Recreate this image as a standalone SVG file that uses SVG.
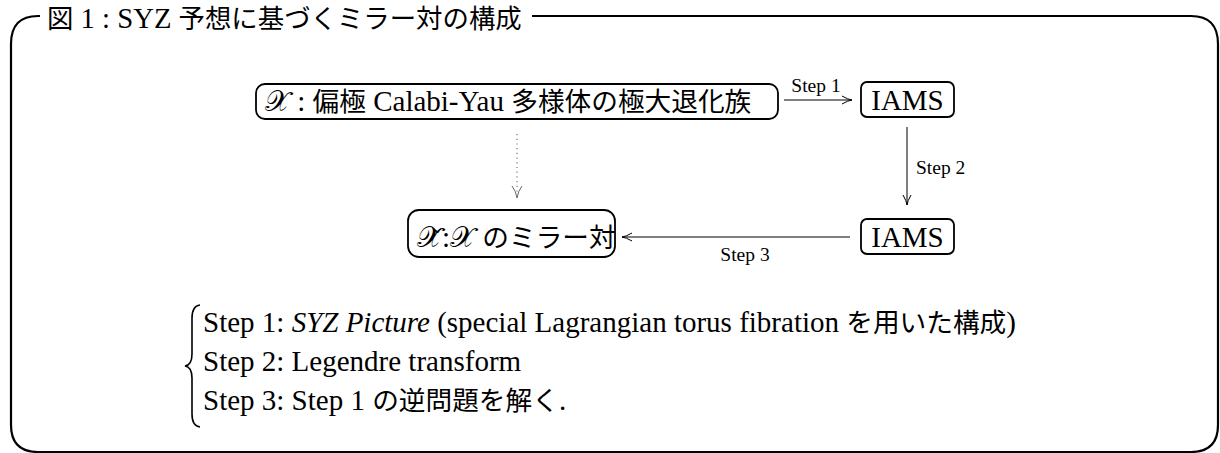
<svg xmlns="http://www.w3.org/2000/svg" width="1220" height="453" viewBox="0 0 1220 453">
<defs>
<style>
text{font-family:"Liberation Serif","Noto Sans CJK JP",serif;fill:#000}
.j{font-size:0.92em}
.frame{fill:none;stroke:#000;stroke-width:2.2}
.box{fill:#fff;stroke:#000;stroke-width:1.8}
.conn{fill:none;stroke:#000;stroke-width:1}
.dot{fill:none;stroke:#777;stroke-width:1.2;stroke-dasharray:1.2 3.5}
.lab{font-size:19.5px}
.node{font-size:29px}
.leg{font-size:29px}
</style>
<marker id="arr" viewBox="0 0 12 10" refX="11" refY="5" markerWidth="12" markerHeight="10" markerUnits="userSpaceOnUse" orient="auto">
<path d="M1,1 Q7,4.5 11,5 Q7,5.5 1,9" fill="none" stroke="#000" stroke-width="1"/>
</marker>
</defs>
<rect width="1220" height="453" fill="#fff"/>
<g id="frame">
<path class="frame" d="M40,16 L38,16 Q11,16 11,44 L11,425 Q11,452 38,452 L1191,452 Q1218,452 1218,425 L1218,44 Q1218,16 1191,16 L532,16"/>
<text x="47" y="28" font-size="28.7"><tspan class="j">図</tspan> 1 : SYZ <tspan class="j">予想に基づくミラー対の構成</tspan></text>
</g>
<g id="connectors">
<line class="conn" x1="784" y1="100" x2="852" y2="100" marker-end="url(#arr)"/>
<text class="lab" x="816" y="92" text-anchor="middle">Step 1</text>
<line class="conn" x1="907" y1="127" x2="907" y2="205" marker-end="url(#arr)"/>
<text class="lab" x="916" y="174">Step 2</text>
<line class="conn" x1="850" y1="237" x2="622" y2="237" marker-end="url(#arr)"/>
<text class="lab" x="745" y="261" text-anchor="middle">Step 3</text>
<line class="dot" x1="517" y1="134" x2="517" y2="194"/>
<path d="M512,186 Q516,191 517,198 Q518,191 522,186" fill="none" stroke="#666" stroke-width="1"/>
</g>
<g id="node-x">
<rect class="box" x="256" y="84" width="522" height="35" rx="9"/>
<text class="node" x="265" y="111">𝒳 : <tspan class="j">偏極</tspan> Calabi-Yau <tspan class="j">多様体の極大退化族</tspan></text>
</g>
<g id="node-iams1">
<rect class="box" x="861" y="82" width="93" height="35" rx="6"/>
<text class="node" x="907.5" y="110" text-anchor="middle">IAMS</text>
</g>
<g id="node-iams2">
<rect class="box" x="861" y="219" width="93" height="35" rx="6"/>
<text class="node" x="907.5" y="247" text-anchor="middle">IAMS</text>
</g>
<g id="node-mirror">
<rect class="box" x="408" y="210" width="207" height="47" rx="11"/>
<text class="node" x="417" y="247">𝒳̌:𝒳 <tspan class="j">のミラー対</tspan></text>
</g>
<g id="legend">
<path d="M200,305 Q192,306 192,318 L192,354 Q192,365 185,366 Q192,367 192,378 L192,414 Q192,426 200,427" fill="none" stroke="#000" stroke-width="1.6"/>
<text class="leg" x="203" y="332">Step 1: <tspan font-style="italic">SYZ Picture</tspan> (special Lagrangian torus fibration <tspan class="j">を用いた構成</tspan>)</text>
<text class="leg" x="203" y="371">Step 2: Legendre transform</text>
<text class="leg" x="203" y="410">Step 3: Step 1 <tspan class="j">の逆問題を解く</tspan>.</text>
</g>
</svg>
